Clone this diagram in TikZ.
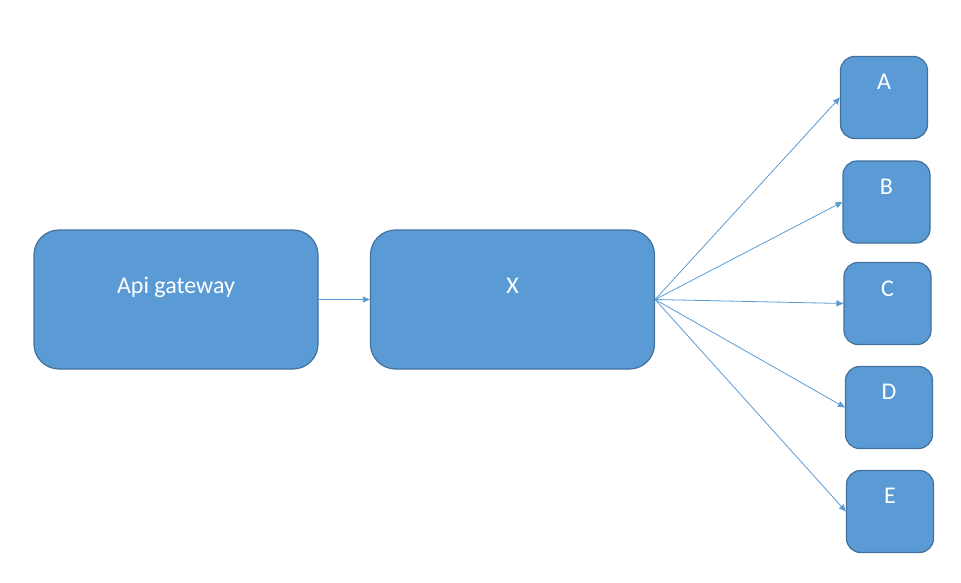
\documentclass[tikz,border=0pt]{standalone}
\usepackage{fontspec}
\setmainfont{Carlito}
\usetikzlibrary{arrows.meta}
\definecolor{boxfill}{HTML}{5B9BD5}
\definecolor{boxline}{HTML}{41719C}
\definecolor{arrowcol}{HTML}{5B9BD5}
\tikzset{
  bigbox/.style={draw=boxline, fill=boxfill, line width=1.2pt, rounded corners=25pt,
    minimum width=284pt, minimum height=139pt, inner sep=0pt},
  smallbox/.style={draw=boxline, fill=boxfill, line width=1.2pt, rounded corners=14pt,
    minimum width=87pt, minimum height=82pt, inner sep=0pt},
  boxtext/.style={text=white, font=\fontsize{24}{28}\selectfont, text height=0.644em, text depth=0pt, inner sep=0pt},
  conn/.style={draw=arrowcol, line width=0.8pt, -{Triangle[length=7pt,width=6pt]}}
}
\begin{document}
\begin{tikzpicture}[x=1pt,y=-1pt]
\useasboundingbox (0,0) rectangle (961,583);
\node[bigbox, label={[boxtext, yshift=9pt]center:Api gateway}] (api) at (176,299.5) {};
\node[bigbox, label={[boxtext, yshift=9pt]center:X}] (x) at (512.5,299.5) {};
\node[smallbox, label={[boxtext, yshift=11.5pt]center:A}] (a) at (884,97.5) {};
\node[smallbox, label={[boxtext, yshift=10.5pt]center:B}] (b) at (886.5,202) {};
\node[smallbox, label={[boxtext, yshift=10.5pt]center:C}] (c) at (887.5,303.5) {};
\node[smallbox, label={[boxtext, yshift=11pt]center:D}] (d) at (889,407.5) {};
\node[smallbox, label={[boxtext, yshift=11pt]center:E}] (e) at (890,511.5) {};
\draw[conn] (api.east) -- (x.west);
\draw[conn] (x.east) -- (a.west);
\draw[conn] (x.east) -- (b.west);
\draw[conn] (x.east) -- (c.west);
\draw[conn] (x.east) -- (d.west);
\draw[conn] (x.east) -- (e.west);
\end{tikzpicture}
\end{document}
